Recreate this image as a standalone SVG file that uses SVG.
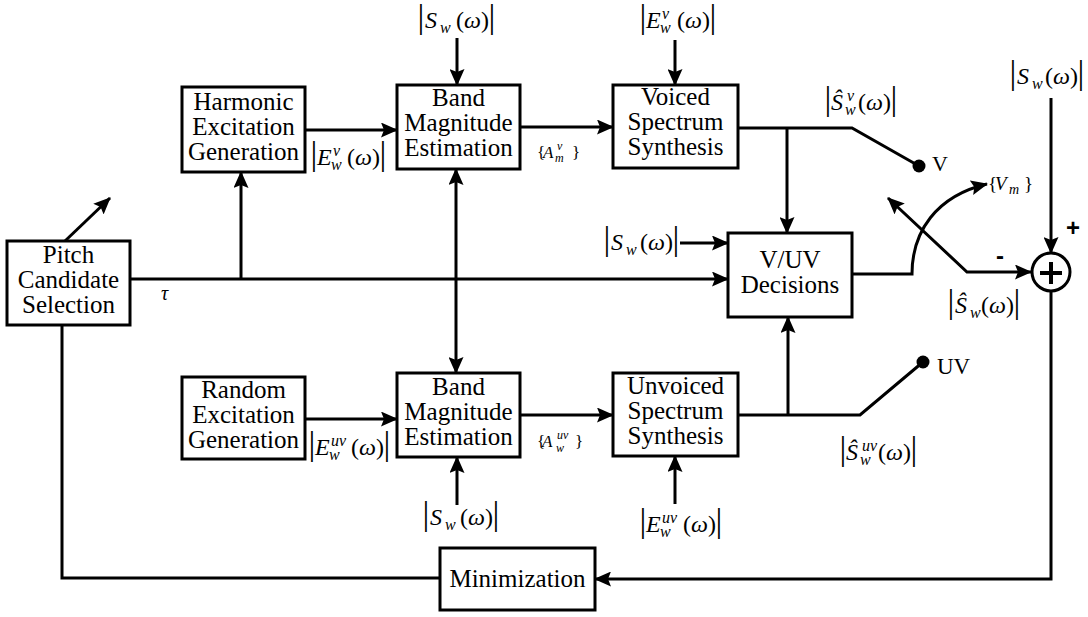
<svg xmlns="http://www.w3.org/2000/svg" width="1088" height="617" viewBox="0 0 1088 617" font-family="'Liberation Serif', 'Times New Roman', serif">
<style>
text{font-family:'Liberation Serif','Times New Roman',serif}
.box{fill:#fff;stroke:#000;stroke-width:3}
.bt{font-size:25px;fill:#000;text-anchor:middle}
.c{fill:none;stroke:#000;stroke-width:3}
.m{font-size:24px;fill:#000}
.i{font-style:italic}
.s{font-size:16px;font-style:italic}
.bar{font-size:34px;text-anchor:middle}
.e{text-anchor:end}
.sm{font-size:17px;fill:#000}
.ss{font-size:12px;font-style:italic}
text.sign{font-family:'Liberation Sans',Arial,sans-serif;font-size:24px;fill:#000;text-anchor:middle;font-weight:bold}
</style>
<defs>
<marker id="ah" markerUnits="userSpaceOnUse" markerWidth="17" markerHeight="15" refX="16" refY="7.5" orient="auto-start-reverse">
<path d="M0,0 L17,7.5 L0,15 L3,7.5 z" fill="#000"/>
</marker>
</defs>

<g id="connectors">
<path class="c" d="M305,130 H397" marker-end="url(#ah)"/>
<path class="c" d="M520,127 H613" marker-end="url(#ah)"/>
<path class="c" d="M457,38 V85" marker-end="url(#ah)"/>
<path class="c" d="M675,40 V85" marker-end="url(#ah)"/>
<path class="c" d="M738,128 H852 L919,166"/>
<path class="c" d="M787,128 V233" marker-end="url(#ah)"/>
<path class="c" d="M65,241 L110,198" marker-end="url(#ah)"/>
<path class="c" d="M130,279 H728" marker-end="url(#ah)"/>
<path class="c" d="M241,279 V172" marker-end="url(#ah)"/>
<path class="c" d="M456,169 V373" marker-start="url(#ah)" marker-end="url(#ah)"/>
<path class="c" d="M680,243 H728" marker-end="url(#ah)"/>
<path class="c" d="M305,419 H397" marker-end="url(#ah)"/>
<path class="c" d="M520,415 H613" marker-end="url(#ah)"/>
<path class="c" d="M457,505 V457" marker-end="url(#ah)"/>
<path class="c" d="M675,504 V456" marker-end="url(#ah)"/>
<path class="c" d="M738,415 H860 L923,362"/>
<path class="c" d="M788,415 V317" marker-end="url(#ah)"/>
<path class="c" d="M852,274 H912 C912,232 936,196 987,184" marker-end="url(#ah)"/>
<path class="c" d="M888,198 L967,272 H1031" marker-start="url(#ah)" marker-end="url(#ah)"/>
<path class="c" d="M1051,98 V253" marker-end="url(#ah)"/>
<path class="c" d="M1051,291 V579 H595" marker-end="url(#ah)"/>
<path class="c" d="M62,325 V578 H440"/>
<circle cx="919" cy="166" r="6.5" fill="#000"/>
<circle cx="923" cy="362" r="6.5" fill="#000"/>
</g>

<g id="harmonic"><rect class="box" x="182" y="87" width="123" height="85"/>
<text class="bt" x="243.5" y="110">Harmonic</text><text class="bt" x="243.5" y="135">Excitation</text><text class="bt" x="243.5" y="160">Generation</text></g>
<g id="band-top"><rect class="box" x="397" y="85" width="123" height="84"/>
<text class="bt" x="458.5" y="106">Band</text><text class="bt" x="458.5" y="131">Magnitude</text><text class="bt" x="458.5" y="156">Estimation</text></g>
<g id="voiced"><rect class="box" x="613" y="85" width="125" height="83"/>
<text class="bt" x="675.5" y="105">Voiced</text><text class="bt" x="675.5" y="130">Spectrum</text><text class="bt" x="675.5" y="155">Synthesis</text></g>
<g id="pitch"><rect class="box" x="7" y="241" width="123" height="84"/>
<text class="bt" x="68.5" y="263">Pitch</text><text class="bt" x="68.5" y="288">Candidate</text><text class="bt" x="68.5" y="313">Selection</text></g>
<g id="vuv"><rect class="box" x="728" y="233" width="124" height="84"/>
<text class="bt" x="790" y="268">V/UV</text><text class="bt" x="790" y="293">Decisions</text></g>
<g id="random"><rect class="box" x="182" y="377" width="123" height="82"/>
<text class="bt" x="243.5" y="398">Random</text><text class="bt" x="243.5" y="423">Excitation</text><text class="bt" x="243.5" y="448">Generation</text></g>
<g id="band-bottom"><rect class="box" x="397" y="373" width="123" height="84"/>
<text class="bt" x="458.5" y="395">Band</text><text class="bt" x="458.5" y="420">Magnitude</text><text class="bt" x="458.5" y="445">Estimation</text></g>
<g id="unvoiced"><rect class="box" x="613" y="373" width="125" height="83"/>
<text class="bt" x="675.5" y="394">Unvoiced</text><text class="bt" x="675.5" y="419">Spectrum</text><text class="bt" x="675.5" y="444">Synthesis</text></g>
<g id="minimization"><rect class="box" x="440" y="548" width="155" height="62"/>
<text class="bt" x="517.5" y="587">Minimization</text></g>
<g id="sum"><circle cx="1051" cy="272" r="19" fill="#fff" stroke="#000" stroke-width="3"/>
<path d="M1040,273 H1062 M1051,262 V284" stroke="#000" stroke-width="4" fill="none"/></g>

<g id="labels">
<text class="m"><tspan class="bar" x="421" y="28">|</tspan><tspan class="i" x="425" y="28">S</tspan><tspan class="s" x="440" y="33">w</tspan></text>
<text class="m e" x="489" y="28">(<tspan class="i">ω</tspan>)</text><text class="m bar" x="492" y="28">|</text>

<text class="m"><tspan class="bar" x="643" y="28">|</tspan><tspan class="i" x="646" y="28">E</tspan><tspan class="s" x="662" y="19">v</tspan><tspan class="s" x="660" y="33">w</tspan></text>
<text class="m e" x="710" y="28">(<tspan class="i">ω</tspan>)</text><text class="m bar" x="713" y="28">|</text>

<text class="m"><tspan class="bar" x="314" y="165">|</tspan><tspan class="i" x="317" y="165">E</tspan><tspan class="s" x="333" y="156">v</tspan><tspan class="s" x="331" y="170">w</tspan></text>
<text class="m e" x="380" y="165">(<tspan class="i">ω</tspan>)</text><text class="m bar" x="383" y="165">|</text>

<text class="sm"><tspan x="537" y="158">{</tspan><tspan class="i" x="543" y="158">A</tspan><tspan class="ss" x="557" y="150">v</tspan><tspan class="ss" x="555" y="162">m</tspan><tspan x="572" y="158">}</tspan></text>

<text class="m"><tspan class="bar" x="828" y="110">|</tspan><tspan class="i" x="831" y="110">Ŝ</tspan><tspan class="s" x="847" y="101">v</tspan><tspan class="s" x="845" y="115">w</tspan></text>
<text class="m e" x="891" y="110">(<tspan class="i">ω</tspan>)</text><text class="m bar" x="894" y="110">|</text>

<text class="m"><tspan class="bar" x="1013" y="84">|</tspan><tspan class="i" x="1017" y="84">S</tspan><tspan class="s" x="1032" y="89">w</tspan></text>
<text class="m e" x="1078" y="84">(<tspan class="i">ω</tspan>)</text><text class="m bar" x="1081" y="84">|</text>

<text class="m"><tspan class="bar" x="607" y="250">|</tspan><tspan class="i" x="611" y="250">S</tspan><tspan class="s" x="626" y="255">w</tspan></text>
<text class="m e" x="673" y="250">(<tspan class="i">ω</tspan>)</text><text class="m bar" x="676" y="250">|</text>

<text class="sm" style="font-size:19px"><tspan x="988" y="190">{</tspan><tspan class="i" x="995" y="190">V</tspan><tspan class="ss" x="1009" y="194" style="font-size:14px">m</tspan><tspan x="1024" y="190">}</tspan></text>

<text class="m"><tspan class="bar" x="951" y="313">|</tspan><tspan class="i" x="955" y="313">Ŝ</tspan><tspan class="s" x="970" y="318">w</tspan></text>
<text class="m e" x="1014" y="313">(<tspan class="i">ω</tspan>)</text><text class="m bar" x="1017" y="313">|</text>

<text class="m"><tspan class="bar" x="312" y="455">|</tspan><tspan class="i" x="315" y="455">E</tspan><tspan class="s" x="331" y="446">uv</tspan><tspan class="s" x="329" y="460">w</tspan></text>
<text class="m e" x="384" y="455">(<tspan class="i">ω</tspan>)</text><text class="m bar" x="387" y="455">|</text>

<text class="sm"><tspan x="537" y="447">{</tspan><tspan class="i" x="542" y="447">A</tspan><tspan class="ss" x="557" y="439">uv</tspan><tspan class="ss" x="556" y="452">w</tspan><tspan x="575" y="447">}</tspan></text>

<text class="m"><tspan class="bar" x="426" y="525">|</tspan><tspan class="i" x="430" y="525">S</tspan><tspan class="s" x="445" y="530">w</tspan></text>
<text class="m e" x="493" y="525">(<tspan class="i">ω</tspan>)</text><text class="m bar" x="496" y="525">|</text>

<text class="m"><tspan class="bar" x="643" y="532">|</tspan><tspan class="i" x="646" y="532">E</tspan><tspan class="s" x="662" y="523">uv</tspan><tspan class="s" x="660" y="537">w</tspan></text>
<text class="m e" x="716" y="532">(<tspan class="i">ω</tspan>)</text><text class="m bar" x="719" y="532">|</text>

<text class="m"><tspan class="bar" x="843" y="460">|</tspan><tspan class="i" x="846" y="460">Ŝ</tspan><tspan class="s" x="862" y="451">uv</tspan><tspan class="s" x="860" y="465">w</tspan></text>
<text class="m e" x="911" y="460">(<tspan class="i">ω</tspan>)</text><text class="m bar" x="914" y="460">|</text>

<text class="m i" x="161" y="300" style="font-size:20px">τ</text>
<text class="m" x="932" y="171" style="font-size:22px">V</text>
<text class="m" x="937" y="374" style="font-size:23px">UV</text>
<text class="sign" x="1073" y="236">+</text>
<text class="sign" x="1000" y="264">-</text>
</g>
</svg>
